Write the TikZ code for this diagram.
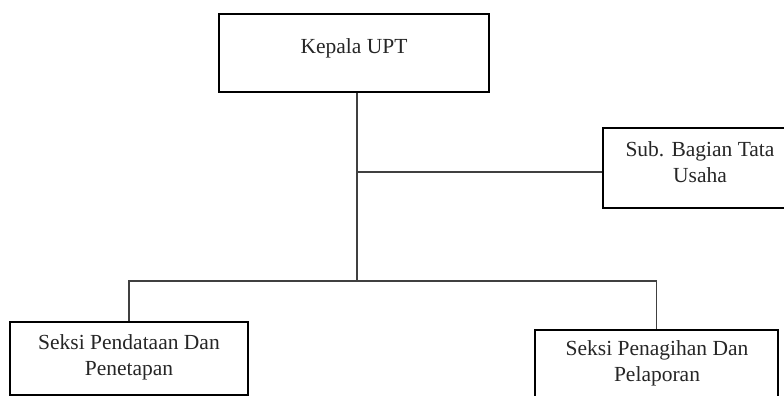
\documentclass[tikz,border=0pt]{standalone}
\usepackage{fontspec}
\setmainfont{Liberation Serif}
\begin{document}
\begin{tikzpicture}[x=1pt,y={(0pt,-1pt)},
  orgbox/.style={draw=black,line width=2pt,rectangle,inner sep=0pt},
  lbl/.style={anchor=base,inner sep=0pt,font=\fontsize{21.5pt}{26pt}\selectfont,text=black!85},
  conn/.style={draw=black!75,line width=1.2pt}]
\useasboundingbox (0,0) rectangle (784,396);
\clip (0,0) rectangle (784,396);
% boxes
\node[orgbox,minimum width=270pt,minimum height=78pt] (kepala) at (354,53) {};
\node[orgbox,minimum width=194pt,minimum height=80pt] (sub) at (700,168) {};
\node[orgbox,minimum width=238pt,minimum height=73pt] (left) at (129,358.5) {};
\node[orgbox,minimum width=243pt,minimum height=73pt] (right) at (656.5,366) {};
% texts
\node[lbl] (kepalaT) at (354,53) {Kepala UPT};
\node[lbl] (subT1) at (700,156) {Sub. Bagian Tata};
\node[lbl] (subT2) at (700,182) {Usaha};
\node[lbl] (leftT1) at (129,349) {Seksi Pendataan Dan};
\node[lbl] (leftT2) at (129,375) {Penetapan};
\node[lbl] (rightT1) at (657,355) {Seksi Penagihan Dan};
\node[lbl] (rightT2) at (657,381) {Pelaporan};
% connectors
\coordinate (j1) at (357,281);
\coordinate (jsub) at (357,172);
\draw[conn] (kepala.south -| j1) -- (j1);
\draw[conn] (jsub) -- (jsub -| sub.west);
\draw[conn] (left.north) -- (left.north |- j1) -- (right.north |- j1) -- (right.north);
\end{tikzpicture}
\end{document}
